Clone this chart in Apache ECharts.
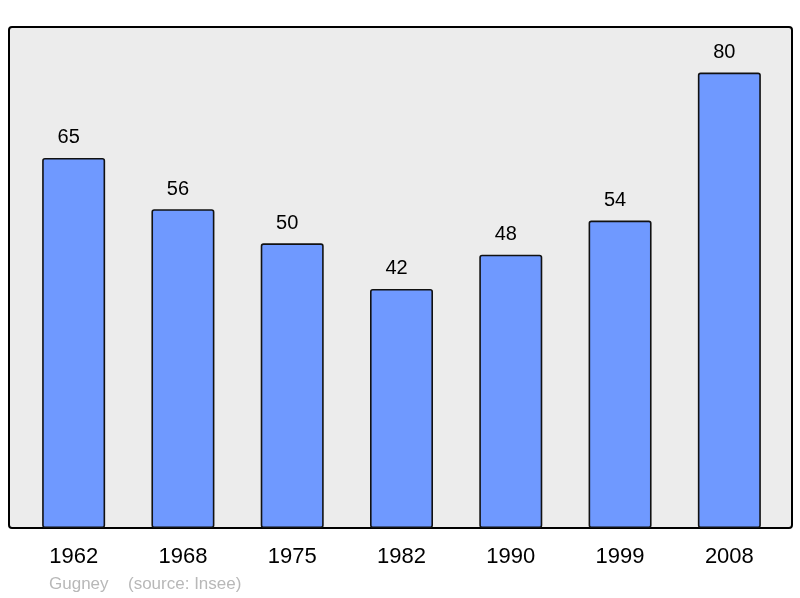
<!DOCTYPE html>
<html>
<head>
<meta charset="utf-8">
<script src="https://cdn.jsdelivr.net/npm/echarts@6/dist/echarts.min.js"></script>
<style>
  html, body { margin: 0; padding: 0; background: #fff; }
  #chart { width: 800px; height: 598px; }
</style>
</head>
<body>
<div id="chart"></div>
<script>
// population by census year
const years = ['1962', '1968', '1975', '1982', '1990', '1999', '2008'];
const population = [65, 56, 50, 42, 48, 54, 80];
const placeName = 'Gugney';
const sourceText = '(source: Insee)';

let chart = echarts.init(document.getElementById('chart'), null, { renderer: 'canvas' });

let option = {
    backgroundColor: '#ffffff',
    animation: false,
    graphic: [
        {
            // framed plot background
            type: 'rect',
            z: -1,
            shape: { x: 9, y: 27, width: 783, height: 501, r: 3 },
            style: { fill: '#ececec', stroke: '#000', lineWidth: 2 }
        },
        {
            type: 'text',
            left: 49,
            top: 576,
            style: { text: placeName, fill: '#b8b8b8', font: '17px "Liberation Sans", Arial, sans-serif' }
        },
        {
            type: 'text',
            left: 128,
            top: 576,
            style: { text: sourceText, fill: '#b8b8b8', font: '17px "Liberation Sans", Arial, sans-serif' }
        }
    ],
    grid: { left: 19, right: 16, top: 27, bottom: 70 },
    xAxis: {
        type: 'category',
        data: years,
        axisLine: { show: false },
        axisTick: { show: false },
        axisLabel: {
            color: '#000',
            fontSize: 22,
            margin: 18,
            fontFamily: '"Liberation Sans", Arial, sans-serif'
        }
    },
    yAxis: {
        type: 'value',
        min: 0,
        max: 88,
        show: false,
        splitLine: { show: false }
    },
    series: [
        {
            type: 'bar',
            data: population,
            barWidth: 63,
            itemStyle: {
                color: '#6f99ff',
                borderColor: '#111',
                borderWidth: 1.6,
                borderRadius: 2
            },
            label: {
                show: true,
                position: 'top',
                distance: 10,
                offset: [-5, 0],
                color: '#000',
                fontSize: 20,
                fontFamily: '"Liberation Sans", Arial, sans-serif'
            }
        }
    ]
};

option && chart.setOption(option);
</script>
</body>
</html>
